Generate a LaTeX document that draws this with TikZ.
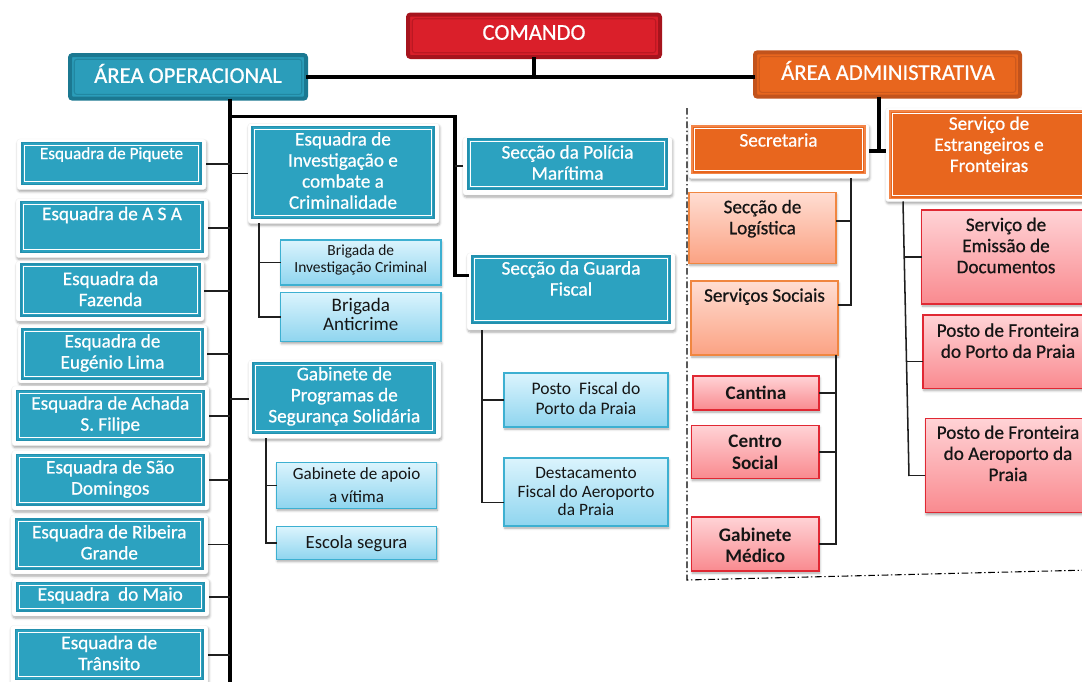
\documentclass[tikz,border=0pt]{standalone}
\usepackage{fontspec}
\setmainfont{Carlito}
\newfontfamily\semi{Carlito}[FakeBold=0.7]
\usetikzlibrary{shadows.blur,calc}
\definecolor{tealC}{HTML}{2CA2C0}
\definecolor{tealE}{HTML}{2390AE}
\definecolor{tealT}{HTML}{2B9DBA}
\definecolor{tealTD}{HTML}{1B7891}
\definecolor{redC}{HTML}{DA1F2A}
\definecolor{redD}{HTML}{A6141D}
\definecolor{orC}{HTML}{E8661E}
\definecolor{orD}{HTML}{C2531C}
\definecolor{orL}{HTML}{F2864A}
\definecolor{lbT}{HTML}{DBF4FD}
\definecolor{lbB}{HTML}{8FD5EF}
\definecolor{lbD}{HTML}{3DB0D1}
\definecolor{pcT}{HTML}{FFDDD2}
\definecolor{pcB}{HTML}{FBA283}
\definecolor{pcD}{HTML}{F08640}
\definecolor{pkT}{HTML}{FFD3D6}
\definecolor{pkB}{HTML}{F98A8F}
\definecolor{pkD}{HTML}{E02833}
\definecolor{txtD}{HTML}{151515}
\newcommand\fs[2]{\fontsize{#1}{#2}\selectfont}
\newcommand\bx[6]{\node[#2,minimum width={(#5-#3)*0.75pt},minimum height={(#6-#4)*0.75pt},inner sep=0pt,outer sep=0pt] (#1) at ({(#3+#5)/2},{(#4+#6)/2}) {};}
\tikzset{
  inl/.style 2 args={path picture={\draw[#1,line width=0.8pt] ([shift={(#2,-#2)}]path picture bounding box.north west) rectangle ([shift={(-#2,#2)}]path picture bounding box.south east);}},
  shd/.style={blur shadow={shadow xshift=0.6pt,shadow yshift=-1.6pt,shadow blur radius=1.8pt,shadow blur steps=5,shadow opacity=35}},
  frm/.style={shd,fill=white,draw=black!5,line width=0.3pt,rounded corners=2pt},
  tl/.style={fill=tealC,draw=tealE,line width=0.8pt,inl={white}{2.2pt}},
  ob/.style={fill=orC,draw=orL,line width=0.8pt,inl={white}{2.2pt}},
  lb/.style={shd,top color=lbT,bottom color=lbB,draw=lbD,line width=1pt},
  pc/.style={shd,top color=pcT,bottom color=pcB,draw=pcD,line width=1pt},
  pk/.style={shd,top color=pkT,bottom color=pkB,draw=pkD,line width=1.1pt},
  cmdS/.style={fill=redC,draw=redD,line width=3pt,rounded corners=2pt,inl={redD!60!redC}{3.2pt}},
  opS/.style={fill=tealT,draw=tealTD,line width=3pt,rounded corners=2pt,inl={tealTD!60!tealT}{3.2pt}},
  adS/.style={fill=orC,draw=orD,line width=3pt,rounded corners=2pt,inl={orD!70!orC}{3.2pt}},
  wt/.style={text=white,align=center,inner sep=0pt,font=\semi\fs{14.4}{15.8}},
  dt/.style={text=txtD,align=center,inner sep=0pt,font=\semi\fs{14.4}{15.8}},
  bt/.style={text=txtD,align=center,inner sep=0pt,font=\fs{14.4}{15.8}},
  tt/.style={text=white,inner sep=0pt,font=\semi\fs{17}{19}},
  ln/.style={line width=1.15pt,draw=black!88},
  tk3/.style={line width=2.6pt},
  tk4/.style={line width=3pt},
  dd/.style={line width=0.8pt,dash pattern=on 5pt off 2pt on 1pt off 2pt}
}
\begin{document}
\begin{tikzpicture}[x=0.75pt,y=-0.75pt]
\path[use as bounding box] (0,0) rectangle (1082,682);
\clip (0,0) rectangle (1082,682);
% ---------- titles
\bx{cmd}{cmdS}{408}{14.5}{660}{57}
\node[tt] (cmdT) at (534,32.5) {COMANDO};
\bx{opA}{opS}{70}{55}{306}{98.7}
\node[tt] (opT) at (188,73.5) {ÁREA OPERACIONAL};
\bx{adA}{adS}{755}{52.3}{1020}{96.7}
\node[tt] (adT) at (888,70.5) {ÁREA ADMINISTRATIVA};
\draw[tk4] (cmd.south) -- (cmd.south |- opA.east);
\draw[tk4] (opA.east) -- (opA.east -| adA.west);
% ---------- left column
\bx{piqf}{frm}{17}{139}{206}{189.5}\bx{piq}{tl}{22}{142.3}{201}{184.3}
\node[wt,font=\semi\fs{12.9}{15}] (piqT) at (piq |- 0,154.5) {Esquadra de Piquete};
\bx{asaf}{frm}{16}{198.5}{208}{257.5}\bx{asa}{tl}{21}{201.7}{203}{252.3}
\node[wt] (asaT) at (asa |- 0,215) {Esquadra de A S A};
\bx{fazf}{frm}{16}{261}{204}{321}\bx{faz}{tl}{21}{264}{200}{316}
\node[wt] (fazT) at (faz |- 0,289) {Esquadra da\\Fazenda};
\bx{eugf}{frm}{18}{325}{207}{383}\bx{eug}{tl}{22}{329}{203}{379}
\node[wt] (eugT) at (eug |- 0,353) {Esquadra de\\Eugénio Lima};
\bx{achf}{frm}{12}{386}{209}{445.5}\bx{ach}{tl}{16.5}{390.7}{204}{440.7}
\node[wt] (achT) at (ach |- 0,415) {Esquadra de Achada\\S. Filipe};
\bx{saof}{frm}{12}{450.5}{209}{510}\bx{sao}{tl}{16.5}{454.3}{204}{505}
\node[wt] (saoT) at (sao |- 0,479) {Esquadra de São\\Domingos};
\bx{ribf}{frm}{10.5}{515}{208}{574}\bx{rib}{tl}{15.5}{519}{203}{569}
\node[wt] (ribT) at (rib |- 0,542.3) {Esquadra de Ribeira\\Grande};
\bx{maif}{frm}{12}{578.5}{209}{616}\bx{mai}{tl}{16.5}{582.3}{204}{611}
\node[wt] (maiT) at (mai |- 0,595.5) {Esquadra\ \ do Maio};
\bx{traf}{frm}{10.5}{625.5}{208}{684.5}\bx{tra}{tl}{15.5}{629.3}{203}{679.3}
\node[wt] (traT) at (tra |- 0,653) {Esquadra de\\Trânsito};
% trunk
\coordinate (trT) at (230,98.7);
\coordinate (trB) at (230,700);
\draw[tk3] (trT) -- (trB);
\foreach \n in {piqf,asaf,fazf,eugf,achf,saof,ribf,maif,traf}
  \draw[ln] (\n.east) -- (\n.east -| trT);
% ---------- middle column
\bx{eicf}{frm}{248}{123.3}{439}{223.3}\bx{eic}{tl}{252}{126.3}{434}{218.3}
\node[wt] (eicT) at (eic |- 0,170.5) {Esquadra de\\Investigação e\\combate a\\Criminalidade};
\bx{bic}{lb}{280.6}{240}{441}{285}
\node[bt,font=\fs{11.6}{12.8}] (bicT) at (bic |- 0,260.3) {Brigada de\\Investigação Criminal};
\bx{bac}{lb}{280.6}{292.3}{441}{341.5}
\node[bt,font=\fs{14.3}{13.8}] (bacT) at (bac |- 0,314.5) {Brigada\\Anticrime};
\bx{gpsf}{frm}{248.6}{360}{441}{438.3}\bx{gps}{tl}{253}{362.7}{435.6}{433.3}
\node[wt] (gpsT) at (gps |- 0,396.3) {Gabinete de\\Programas de\\Segurança Solidária};
\bx{gav}{lb}{276.5}{462.3}{436.6}{508.3}
\node[bt,font=\fs{12.8}{17.3}] (gavT) at (gav |- 0,485.5) {Gabinete de apoio\\a vítima};
\bx{esc}{lb}{276.5}{526.7}{436.6}{559.3}
\node[bt,font=\fs{14}{15}] (escT) at (esc |- 0,543.3) {Escola segura};
\draw[ln] (trT |- eicf.west) -- (eicf.west);
\draw[ln] (trT |- gpsf.west) -- (gpsf.west);
\coordinate (eicB) at (259,223.3);
\draw[ln] (eicB) |- (bac.west);
\draw[ln] (eicB |- bic.west) -- (bic.west);
\coordinate (gpsB) at (266,438.3);
\draw[ln] (gpsB) |- (esc.west);
\draw[ln] (gpsB |- gav.west) -- (gav.west);
% ---------- third column
\bx{pmf}{frm}{463}{137}{672}{195}\bx{pm}{tl}{468}{139}{667}{189}
\node[wt] (pmT) at (pm |- 0,162.5) {Secção da Polícia\\Marítima};
\bx{sgff}{frm}{467}{253}{675}{330}\bx{sgf}{tl}{472}{256}{670}{323}
\node[wt] (sgfT) at (sgf |- 0,278.5) {Secção da Guarda\\Fiscal};
\bx{pfp}{lb}{504}{373}{668}{427}
\node[bt,font=\fs{13.2}{14.5}] (pfpT) at (pfp |- 0,398.5) {Posto\ \ Fiscal do\\Porto da Praia};
\bx{dfa}{lb}{504}{458}{668}{526}
\node[bt,font=\fs{13}{13.9}] (dfaT) at (dfa |- 0,491.5) {Destacamento\\Fiscal do Aeroporto\\da Praia};
\coordinate (brJ) at (230,116.7);
\coordinate (brC) at (455,116.7);
\draw[tk3,line cap=rect] (brJ) -- (brC) |- ([yshift=12pt]sgff.west);
\draw[ln] (pmf.west) -- (pmf.west -| brC);
\coordinate (sgfB) at (482,330);
\draw[ln] (sgfB) |- ([yshift=-8pt]dfa.west);
\draw[ln] (sgfB |- pfp.west) -- (pfp.west);
% ---------- administrative area
\coordinate (dd1) at (687,108);
\coordinate (dd2) at (687,580);
\coordinate (dd3) at (1090,570);
\draw[dd] (dd1) -- (dd2) -- (dd3);
\bx{secf}{frm}{688.6}{124}{869}{178.3}\bx{sec}{ob}{692}{126}{865}{173.3}
\node[wt] (secT) at (sec |- 0,140) {Secretaria};
\bx{seff}{frm}{885.6}{108}{1093}{201.5}\bx{sef}{ob}{890}{111}{1088}{198.3}
\node[wt] (sefT) at (989,144.3) {Serviço de\\Estrangeiros e\\Fronteiras};
\coordinate (adB) at (879,96.7);
\draw[tk4] (adB) -- (adB |- secf.east);
\draw[tk4] (secf.east) -- (secf.east -| seff.west);
\bx{log}{pc}{689}{192.7}{836}{263.3}
\node[dt] (logT) at (log |- 0,218.7) {Secção de\\Logística};
\bx{sso}{pc}{691}{281}{838}{355}
\node[dt] (ssoT) at (sso |- 0,296.7) {Serviços Sociais};
\coordinate (secB) at (851,178.3);
\draw[ln] (secB) |- ([yshift=9.75pt]sso.east);
\draw[ln] ([yshift=5.25pt]log.east) -- ++(15,0);
\bx{can}{pk}{693}{376}{819}{410}
\node[dt,font=\bfseries\fs{14.4}{15.8}] (canT) at (can |- 0,393.3) {Cantina};
\bx{cso}{pk}{691.4}{425.3}{819}{478.3}
\node[dt,font=\bfseries\fs{14.4}{15.8}] (csoT) at (cso |- 0,452.3) {Centro\\Social};
\bx{gmd}{pk}{691.4}{517}{819}{571}
\node[dt,font=\bfseries\fs{14.4}{15.8}] (gmdT) at (gmd |- 0,545) {Gabinete\\Médico};
\coordinate (ssoB) at (836,355);
\draw[ln] (ssoB) |- (gmd.east);
\draw[ln] (can.east) -- (can.east -| ssoB);
\draw[ln] (cso.east) -- (cso.east -| ssoB);
\bx{sed}{pk}{921.7}{210}{1092}{304}
\node[dt] (sedT) at (1006,245.5) {Serviço de\\Emissão de\\Documentos};
\bx{pfpp}{pk}{923}{315}{1092}{388.3}
\node[dt] (pfppT) at (1008,340.7) {Posto de Fronteira\\do Porto da Praia};
\bx{pfa}{pk}{925.4}{418.3}{1092}{512.7}
\node[dt] (pfaT) at (1008,453.3) {Posto de Fronteira\\do Aeroporto da\\Praia};
\coordinate (sefB1) at (903,201.5);
\coordinate (sefB2) at (909,476);
\draw[ln] (sefB1) -- (sefB2);
\draw[ln] (sed.west) -- ++(-17.6,0);
\draw[ln] ([yshift=-7.5pt]pfpp.west) -- ++(-16.6,0);
\draw[ln] ([yshift=-7.6pt]pfa.west) -- ++(-16.4,0);
\end{tikzpicture}
\end{document}
